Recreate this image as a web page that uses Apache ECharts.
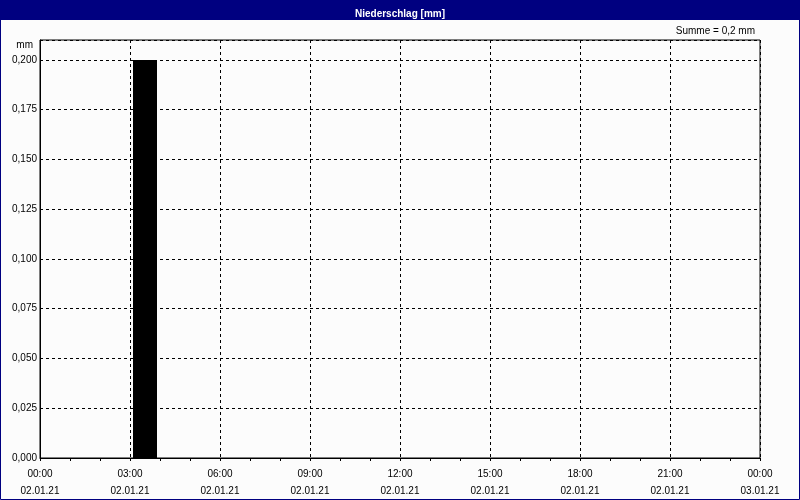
<!DOCTYPE html>
<html>
<head>
<meta charset="utf-8">
<script src="https://cdn.jsdelivr.net/npm/echarts@6/dist/echarts.min.js"></script>
<style>
html,body{margin:0;padding:0;background:#fcfcfc;}
#c{width:800px;height:500px;}
</style>
</head>
<body>
<div id="c"></div>
<script>
// Hourly precipitation, 02.01.21 00:00 .. 03.01.21 00:00 (mm per hour)
const hourStarts = ['00','01','02','03','04','05','06','07','08','09','10','11','12','13','14','15','16','17','18','19','20','21','22','23'];
const precip = [0,0,0,0.2,0,0,0,0,0,0,0,0,0,0,0,0,0,0,0,0,0,0,0,0];
const timeLabels = ['00:00','03:00','06:00','09:00','12:00','15:00','18:00','21:00','00:00'];
const dateLabels = ['02.01.21','02.01.21','02.01.21','02.01.21','02.01.21','02.01.21','02.01.21','02.01.21','03.01.21'];
const yTicks = [0,0.025,0.05,0.075,0.1,0.125,0.15,0.175,0.2];

const sum = precip.reduce((a,b)=>a+b,0);
const FONT = 'Liberation Sans';
const chart = echarts.init(document.getElementById('c'), null, {renderer:'canvas'});
chart.setOption({
  backgroundColor:'#fcfcfc',
  animation:false,
  textStyle:{fontFamily:FONT},
  title:{
    text:'Niederschlag [mm]', left:'center', top:4,
    textStyle:{color:'#fff', fontSize:10, fontWeight:'bold', fontFamily:FONT}
  },
  graphic:[
    {type:'rect', z:-1, shape:{x:0,y:0,width:800,height:20}, style:{fill:'#000080'}},
    {type:'rect', z:-1, shape:{x:0.5,y:0.5,width:799,height:499}, style:{fill:null, stroke:'#000080', lineWidth:1}},
    {type:'text', x:755, y:31, style:{text:'Summe = ' + sum.toFixed(1).replace('.',',') + ' mm', align:'right', verticalAlign:'middle', fill:'#000', font:'10px ' + FONT}},
    {type:'text', x:33, y:45, style:{text:'mm', align:'right', verticalAlign:'middle', fill:'#000', font:'10px ' + FONT}}
  ],
  grid:{left:40, right:40, top:40, bottom:40, show:true, borderColor:'#000', borderWidth:1, backgroundColor:'transparent'},
  xAxis:{
    type:'value', min:0, max:24, interval:3,
    axisLine:{show:true, lineStyle:{color:'#000', width:1}},
    axisTick:{show:true, length:3, lineStyle:{color:'#000'}},
    minorTick:{show:true, splitNumber:3, length:3, lineStyle:{color:'#000'}},
    splitLine:{show:true, lineStyle:{color:'#000', type:[3,3], width:1}},
    axisLabel:{
      color:'#000', fontSize:10, fontFamily:FONT, margin:8, lineHeight:17,
      formatter:function(v){const i=Math.round(v/3); return timeLabels[i] + '\n' + dateLabels[i];}
    }
  },
  yAxis:{
    type:'value', min:0, max:0.21, interval:0.025,
    axisLine:{show:true, lineStyle:{color:'#000'}},
    axisTick:{show:false},
    splitLine:{show:true, lineStyle:{color:'#000', type:[3,3], width:1}},
    axisLabel:{
      color:'#000', fontSize:10, fontFamily:FONT, margin:3,
      showMaxLabel:false,
      formatter:function(v){
        const k = v/0.025;
        if (Math.abs(k-Math.round(k))>1e-6) return '';
        return v.toFixed(3).replace('.',',');
      }
    }
  },
  series:[{
    type:'bar',
    data: precip.map((v,i)=>[i+0.5, v]),
    barWidth:24,
    itemStyle:{color:'#000'},
    silent:true
  }]
});
</script>
</body>
</html>
